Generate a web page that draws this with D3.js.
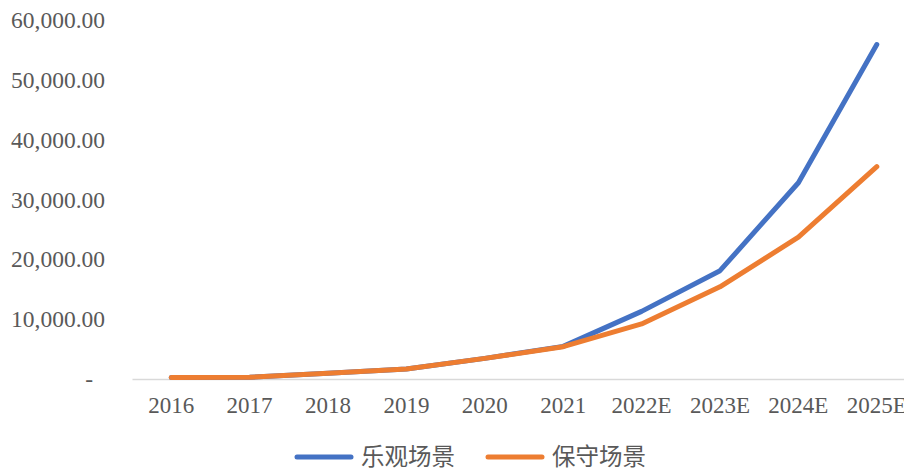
<html>
<head>
<script src="https://d3js.org/d3.v7.min.js"></script>
<style>
    body { margin: 0; background: #fff; }
    text { font-family: "Liberation Serif", "Noto Sans CJK SC", serif; fill: #595959; }
</style>
</head>
<body>
<svg id="chart" width="904" height="470"></svg>
<script>
// categories and series values
const years = ["2016", "2017", "2018", "2019", "2020", "2021", "2022E", "2023E", "2024E", "2025E"];
const optimistic = [250, 280, 950, 1680, 3450, 5450, 11300, 18100, 32800, 55900];
const conservative = [250, 280, 950, 1680, 3450, 5400, 9200, 15400, 23700, 35500];
const yTicks = [0, 10000, 20000, 30000, 40000, 50000, 60000];
const seriesNames = ["乐观场景", "保守场景"];
const colors = ["#4472C4", "#ED7D31"];

const svg = d3.select("svg#chart");

const x = d3.scaleBand().domain(years).range([132, 916]);
const y = d3.scaleLinear().domain([0, 60000]).range([379, 20]);

// y axis labels, no line
const fmt = d3.format(",.2f");
const yAxis = svg.append("g")
    .attr("transform", "translate(105,0)")
    .call(d3.axisLeft(y).tickValues(yTicks).tickSize(0).tickPadding(0)
        .tickFormat(d => d === 0 ? "-" : fmt(d)));
yAxis.select(".domain").remove();
yAxis.selectAll("text").style("font-size", "23.5px").attr("fill", "#595959");
yAxis.selectAll(".tick").filter(d => d === 0).select("text").attr("dx", -12);

// x axis
const xAxis = svg.append("g")
    .attr("transform", "translate(0,379)")
    .call(d3.axisBottom(x).tickSize(0).tickPadding(18));
xAxis.select(".domain").attr("stroke", "#d9d9d9").attr("stroke-width", 1.5);
xAxis.selectAll("text").style("font-size", "23px").attr("fill", "#595959");

// lines
const line = d3.line()
    .x((d, i) => x(years[i]) + x.bandwidth() / 2)
    .y(d => y(d));

[optimistic, conservative].forEach((vals, i) => {
    svg.append("path")
        .attr("fill", "none")
        .attr("stroke", colors[i])
        .attr("stroke-width", 5)
        .attr("stroke-linecap", "round")
        .attr("stroke-linejoin", "round")
        .attr("d", line(vals));
});

// legend
const legend = svg.append("g").attr("transform", "translate(297,457)");
seriesNames.forEach((name, i) => {
    const g = legend.append("g").attr("transform", `translate(${i * 191},0)`);
    g.append("line")
        .attr("x1", 0).attr("x2", 54).attr("y1", 0).attr("y2", 0)
        .attr("stroke", colors[i]).attr("stroke-width", 5).attr("stroke-linecap", "round");
    g.append("text")
        .attr("x", 64).attr("y", 0).attr("dy", "0.35em")
        .style("font-size", "23.5px")
        .text(name);
});
</script>
</body>
</html>
